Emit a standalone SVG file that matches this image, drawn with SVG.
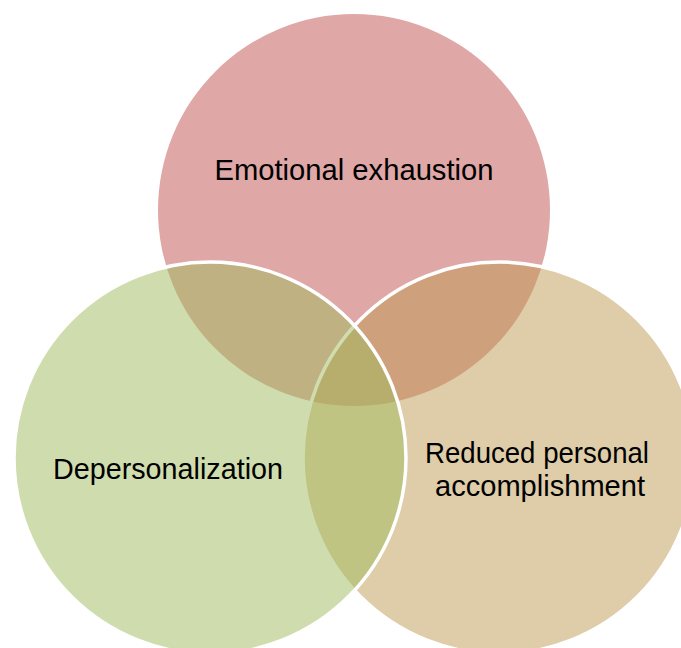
<svg xmlns="http://www.w3.org/2000/svg" width="681" height="648" viewBox="0 0 681 648">
<style>
.c{fill-opacity:0.5}
.s{stroke:#ffffff;stroke-width:3.5}
.t{font-family:"Liberation Sans",Arial,sans-serif;font-size:29px;fill:#000000;text-anchor:middle}
</style>
<rect width="681" height="648" fill="#ffffff"/>
<g id="node-emotional-exhaustion">
<circle class="c" cx="354" cy="210" r="196" fill="#c0504d"/>
</g>
<g id="node-reduced-personal-accomplishment">
<circle class="c s" cx="499" cy="458" r="196" fill="#bd9b51"/>
</g>
<g id="node-depersonalization">
<circle class="c s" cx="210" cy="458" r="196" fill="#9fbb5d"/>
</g>
<g id="connectors"></g>
<g id="labels">
<text class="t" x="354" y="180" textLength="279" lengthAdjust="spacingAndGlyphs">Emotional exhaustion</text>
<text class="t" x="168" y="479" textLength="230" lengthAdjust="spacingAndGlyphs">Depersonalization</text>
<text class="t" x="537" y="463" textLength="224" lengthAdjust="spacingAndGlyphs">Reduced personal</text>
<text class="t" x="540" y="496" textLength="210" lengthAdjust="spacingAndGlyphs">accomplishment</text>
</g>
</svg>
